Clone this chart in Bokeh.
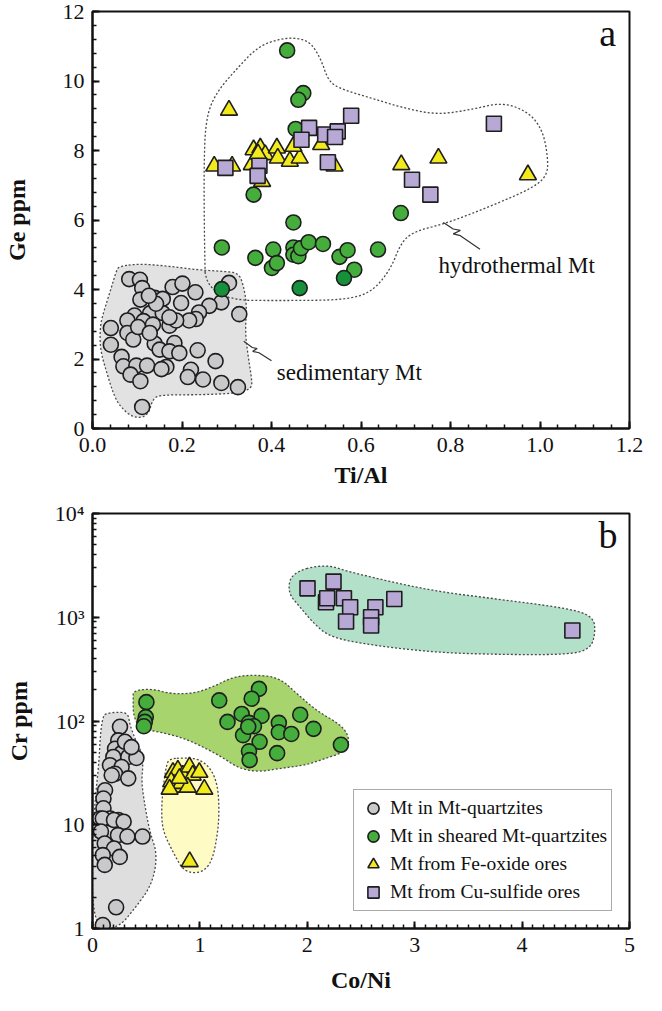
import numpy as np
from bokeh.plotting import figure
from bokeh.layouts import column
from bokeh.models import (Range1d, SingleIntervalTicker, FixedTicker, LogTicker, Label,
                          Legend, LegendItem)
from bokeh.embed import file_html
from bokeh.resources import INLINE

# ---------------- Panel a : Ge ppm vs Ti/Al ----------------
a_xticks = [0.0, 0.2, 0.4, 0.6, 0.8, 1.0, 1.2]
a_xtick_labels = ["0.0", "0.2", "0.4", "0.6", "0.8", "1.0", "1.2"]

a_sed_x = [0.082, 0.106, 0.111, 0.179, 0.201, 0.230, 0.305, 0.288, 0.261, 0.328,
           0.107, 0.139, 0.157, 0.198, 0.238, 0.231, 0.216, 0.129, 0.157, 0.094,
           0.078, 0.114, 0.135, 0.172, 0.187, 0.041, 0.078, 0.091, 0.041, 0.139,
           0.150, 0.183, 0.172, 0.194, 0.235, 0.275, 0.065, 0.069, 0.098, 0.122,
           0.165, 0.154, 0.085, 0.107, 0.220, 0.213, 0.247, 0.288, 0.325, 0.111,
           0.102, 0.128, 0.142, 0.172, 0.126]
a_sed_y = [4.30, 4.28, 4.04, 4.07, 4.17, 3.92, 4.19, 3.63, 3.53, 3.29,
           3.71, 3.76, 3.73, 3.61, 3.34, 3.15, 3.11, 3.32, 3.32, 3.25,
           3.11, 3.09, 2.99, 2.96, 3.11, 2.89, 2.75, 2.56, 2.41, 2.44,
           2.27, 2.46, 2.22, 2.17, 2.25, 1.94, 2.06, 1.79, 1.81, 1.81,
           1.77, 1.71, 1.55, 1.36, 1.69, 1.48, 1.41, 1.31, 1.19, 0.62,
           2.92, 2.75, 3.59, 3.20, 3.82]

a_grn_x = [0.435, 0.471, 0.460, 0.454, 0.360, 0.689, 0.449, 0.289, 0.364, 0.404, 0.401,
           0.412, 0.449, 0.449, 0.460, 0.466, 0.483, 0.515, 0.552, 0.570, 0.585, 0.638]
a_grn_y = [10.88, 9.65, 9.46, 8.62, 6.73, 6.20, 5.93, 5.21, 4.91, 5.15, 4.62,
           4.76, 5.21, 5.00, 4.96, 5.19, 5.36, 5.31, 4.94, 5.13, 4.57, 5.15]

a_dkg_x = [0.289, 0.463, 0.562]
a_dkg_y = [4.01, 4.04, 4.33]

a_tri_x = [0.305, 0.272, 0.312, 0.360, 0.375, 0.386, 0.412, 0.414, 0.441, 0.463,
           0.449, 0.511, 0.356, 0.541, 0.690, 0.773, 0.973, 0.379, 0.370]
a_tri_y = [9.16, 7.55, 7.55, 8.02, 8.07, 7.88, 8.07, 7.78, 7.69, 7.78,
           8.12, 8.17, 7.59, 7.55, 7.59, 7.78, 7.30, 7.11, 7.90]

a_sq_x = [0.578, 0.484, 0.520, 0.548, 0.542, 0.467, 0.897, 0.297, 0.373, 0.369, 0.526, 0.714, 0.755]
a_sq_y = [9.00, 8.65, 8.46, 8.55, 8.39, 8.31, 8.77, 7.50, 7.56, 7.27, 7.66, 7.16, 6.73]

# field outlines (panel a)
a_sed_env_x = [0.061, 0.106, 0.172, 0.231, 0.297, 0.327, 0.338, 0.345, 0.341, 0.349, 0.356, 0.356,
               0.327, 0.245, 0.157, 0.135, 0.124, 0.091, 0.061, 0.046, 0.032, 0.017, 0.017, 0.024,
               0.043, 0.054]
a_sed_env_y = [4.67, 4.74, 4.67, 4.57, 4.52, 4.47, 4.09, 3.51, 2.75, 1.98, 1.41, 1.16,
               1.02, 0.97, 0.97, 0.88, 0.35, 0.30, 0.64, 1.02, 1.60, 2.27, 2.94, 3.32,
               4.09, 4.57]
a_hyd_env_x = [0.253, 0.250, 0.249, 0.253, 0.275, 0.327, 0.371, 0.420, 0.460, 0.489, 0.511,
               0.526, 0.548, 0.622, 0.696, 0.770, 0.843, 0.917, 0.975, 1.005, 1.017, 1.017,
               0.976, 0.880, 0.792, 0.718, 0.689, 0.666, 0.622, 0.563, 0.474]
a_hyd_env_y = [3.69, 5.50, 7.55, 8.90, 9.65, 10.42, 11.00, 11.22, 11.24, 11.09, 10.61,
               10.04, 9.80, 9.51, 9.22, 9.03, 9.17, 9.39, 9.10, 8.60, 7.90, 7.26,
               6.87, 6.35, 5.91, 5.67, 5.34, 4.57, 3.90, 3.71, 3.68]
a_sed_lead_x = [0.338, 0.357, 0.368, 0.358, 0.372, 0.400]
a_sed_lead_y = [2.51, 2.33, 2.30, 2.22, 2.18, 1.95]
a_hyd_lead_x = [0.784, 0.806, 0.822, 0.806, 0.822, 0.866]
a_hyd_lead_y = [5.93, 5.74, 5.70, 5.60, 5.55, 5.16]

# ---------------- Panel b : Cr ppm vs Co/Ni ----------------
b_gry_x = [0.256, 0.240, 0.210, 0.271, 0.194, 0.333, 0.409, 0.163, 0.271, 0.210,
           0.333, 0.179, 0.117, 0.102, 0.102, 0.163, 0.240, 0.071, 0.302, 0.363,
           0.096, 0.200, 0.290, 0.237, 0.325, 0.466, 0.079, 0.114, 0.200, 0.096,
           0.254, 0.114, 0.220, 0.096]
b_gry_y = [88, 65, 54, 49, 45, 45, 44, 37.5, 36, 31,
           28, 30, 21.5, 17.9, 14.4, 11.5, 11.1, 11.5, 63, 56,
           11.5, 11.1, 10.7, 7.95, 7.7, 7.7, 8.6, 6.6, 5.9, 5.1,
           4.9, 4.1, 1.6, 1.08]

b_grn_x = [0.502, 0.496, 0.487, 0.478, 1.180, 1.550, 1.482, 1.389, 1.574, 1.257, 1.457, 1.503,
           1.735, 1.735, 1.851, 1.934, 2.058, 2.313, 1.402, 1.556, 1.457, 1.463, 1.719, 1.450]
b_grn_y = [152, 109, 98, 89, 158, 204, 164, 117, 112, 98, 96, 89,
           96, 78, 75, 115, 84, 59, 73, 63, 51, 42, 49, 88]

b_tri_x = [0.749, 0.795, 0.841, 0.903, 0.933, 0.995, 0.733, 0.764, 0.825, 0.887, 1.041, 0.810, 0.718, 0.905]
b_tri_y = [32, 33.6, 30, 36, 30, 32, 26, 23, 25, 23, 22, 28, 22, 4.4]

b_sq_x = [2.002, 2.244, 2.174, 2.185, 2.341, 2.399, 2.634, 2.810, 2.361, 2.594, 2.594, 4.468]
b_sq_y = [1900, 2204, 1393, 1523, 1523, 1248, 1248, 1500, 910, 1000, 832, 745]

# field outlines (panel b), y given as log10(Cr)
b_gry_env_x = [0.100, 0.132, 0.256, 0.333, 0.348, 0.409, 0.456, 0.471, 0.456, 0.487, 0.533,
               0.606, 0.553, 0.395, 0.237, 0.000, 0.000, 0.030, 0.060, 0.075]
b_gry_env_ly = [2.05, 2.075, 2.087, 2.07, 1.959, 1.798, 1.702, 1.574, 1.413, 1.189, 0.933,
                0.708, 0.42, 0.195, 0.0, 0.0, 0.9, 1.3, 1.6, 1.9]
b_grn_env_x = [0.379, 0.564, 0.718, 0.933, 1.118, 1.303, 1.488, 1.735, 1.920, 2.104, 2.320, 2.397,
               2.350, 2.166, 1.981, 1.735, 1.550, 1.365, 1.180, 0.872, 0.626, 0.441, 0.379, 0.379]
b_grn_env_ly = [2.295, 2.31, 2.263, 2.263, 2.327, 2.423, 2.445, 2.423, 2.247, 2.087, 1.959, 1.83,
                1.702, 1.638, 1.574, 1.541, 1.51, 1.541, 1.67, 1.83, 1.894, 1.926, 2.055, 2.215]
b_yel_env_x = [0.718, 0.872, 0.995, 1.103, 1.165, 1.180, 1.168, 1.115, 1.010, 0.852, 0.764,
               0.656, 0.641, 0.656, 0.687]
b_yel_env_ly = [1.638, 1.644, 1.632, 1.541, 1.382, 1.157, 0.933, 0.644, 0.532, 0.548, 0.708,
                0.933, 1.125, 1.349, 1.574]
b_teal_env_x = [1.855, 2.167, 2.401, 3.142, 3.766, 4.468, 4.664, 4.683, 4.640, 4.450, 3.800,
                3.200, 2.600, 2.206, 2.050, 1.934, 1.816]
b_teal_env_ly = [3.433, 3.513, 3.433, 3.257, 3.176, 3.08, 3.0, 2.856, 2.70, 2.64, 2.64,
                 2.66, 2.73, 2.808, 2.952, 3.096, 3.24]

b_ytick_labels = {1: "1", 10: "10", 100: "10\u00b2", 1000: "10\u00b3", 10000: "10\u2074"}
legend_labels = ["Mt in Mt-quartzites", "Mt in sheared Mt-quartzites",
                 "Mt from Fe-oxide ores", "Mt from Cu-sulfide ores"]

# ---------------- styles ----------------
FONT = "Liberation Serif"
C_GRAY = "#c9c9cb"
C_GREEN = "#45ad3c"
C_DKGREEN = "#16903a"
C_YELLOW = "#f3ea1e"
C_PURPLE = "#b7a8d6"
EDGE = "#1e1e1e"
ENV_LINE = "#4a4a4a"


def chaikin(xs, ys, it=3):
    pts = np.column_stack([np.asarray(xs, float), np.asarray(ys, float)])
    for _ in range(it):
        nxt = np.roll(pts, -1, axis=0)
        q = 0.75 * pts + 0.25 * nxt
        r = 0.25 * pts + 0.75 * nxt
        out = np.empty((2 * len(pts), 2))
        out[0::2] = q
        out[1::2] = r
        pts = out
    return pts[:, 0], pts[:, 1]


def style(p, xlabel, ylabel, y_title_standoff, x_title_standoff):
    p.outline_line_color = "#111111"
    p.outline_line_width = 2
    p.xgrid.visible = False
    p.ygrid.visible = False
    for ax in (p.xaxis[0], p.yaxis[0]):
        ax.axis_line_width = 2
        ax.axis_line_color = "#111111"
        ax.major_tick_in = 7
        ax.major_tick_out = 0
        ax.minor_tick_in = 4
        ax.minor_tick_out = 0
        ax.major_tick_line_width = 2
        ax.minor_tick_line_width = 1.5
        ax.major_tick_line_color = "#111111"
        ax.minor_tick_line_color = "#111111"
        ax.major_label_text_font = FONT
        ax.major_label_text_font_size = "22px"
        ax.major_label_text_color = "#111111"
        ax.axis_label_text_font = FONT
        ax.axis_label_text_font_style = "bold"
        ax.axis_label_text_font_size = "24px"
        ax.axis_label_text_color = "#111111"
    p.xaxis[0].axis_label = xlabel
    p.yaxis[0].axis_label = ylabel
    p.xaxis[0].major_label_standoff = 9
    p.yaxis[0].major_label_standoff = 8
    p.yaxis[0].axis_label_standoff = y_title_standoff
    p.xaxis[0].axis_label_standoff = x_title_standoff


# ---------------- panel a ----------------
pa = figure(width=646, height=500, x_range=Range1d(0, 1.2), y_range=Range1d(0, 12),
            output_backend="svg", toolbar_location=None,
            min_border_left=91, min_border_right=17, min_border_top=11, min_border_bottom=72)
style(pa, "Ti/Al", "Ge ppm", 30, 7)
pa.xaxis[0].ticker = FixedTicker(ticks=a_xticks, minor_ticks=[i * 0.04 for i in range(31)])
pa.xaxis[0].major_label_overrides = dict(zip(a_xticks, a_xtick_labels))
pa.yaxis[0].ticker = SingleIntervalTicker(interval=2, num_minor_ticks=5)

sx, sy = chaikin(a_sed_env_x, a_sed_env_y)
pa.patch(sx, sy, fill_color="#e2e2e2", line_color=ENV_LINE, line_dash="2 2", line_width=1.3)
hx, hy = chaikin(a_hyd_env_x, a_hyd_env_y)
pa.patch(hx, hy, fill_color=None, line_color=ENV_LINE, line_dash="2 2", line_width=1.3)
pa.line(a_sed_lead_x, a_sed_lead_y, line_color="#333333", line_width=1.2)
pa.line(a_hyd_lead_x, a_hyd_lead_y, line_color="#333333", line_width=1.2)

pa.scatter(a_sed_x, a_sed_y, marker="circle", size=15, fill_color=C_GRAY, line_color=EDGE, line_width=1.6)
pa.scatter(a_grn_x, a_grn_y, marker="circle", size=15, fill_color=C_GREEN, line_color=EDGE, line_width=1.6)
pa.scatter(a_dkg_x, a_dkg_y, marker="circle", size=15, fill_color=C_DKGREEN, line_color=EDGE, line_width=1.6)
pa.scatter(a_tri_x, a_tri_y, marker="triangle", size=17, fill_color=C_YELLOW, line_color=EDGE, line_width=1.6)
pa.scatter(a_sq_x, a_sq_y, marker="square", size=15, fill_color=C_PURPLE, line_color=EDGE, line_width=1.6)

pa.add_layout(Label(x=0.412, y=1.62, text="sedimentary Mt", text_font=FONT, text_font_size="23px",
                    text_baseline="middle", text_color="#111111"))
pa.add_layout(Label(x=0.773, y=4.70, text="hydrothermal Mt", text_font=FONT, text_font_size="23px",
                    text_baseline="middle", text_color="#111111"))
pa.add_layout(Label(x=1.151, y=11.38, text="a", text_font=FONT, text_font_size="38px",
                    text_align="center", text_baseline="middle", text_color="#111111"))

# ---------------- panel b ----------------
pb = figure(width=646, height=495, x_range=Range1d(0, 5), y_range=Range1d(1, 10000),
            y_axis_type="log", output_backend="svg", toolbar_location=None,
            min_border_left=91, min_border_right=17, min_border_top=13, min_border_bottom=66)
style(pb, "Co/Ni", "Cr ppm", 20, 12)
pb.xaxis[0].ticker = SingleIntervalTicker(interval=1, num_minor_ticks=10)
pb.yaxis[0].ticker = LogTicker(num_minor_ticks=10)
pb.yaxis[0].major_label_overrides = b_ytick_labels

for ex, ely, col in ((b_gry_env_x, b_gry_env_ly, "#dedede"),
                     (b_grn_env_x, b_grn_env_ly, "#a8d46e"),
                     (b_yel_env_x, b_yel_env_ly, "#fffbc4"),
                     (b_teal_env_x, b_teal_env_ly, "#b3e0c9")):
    cx, cly = chaikin(ex, ely)
    cly = np.clip(cly, 0.0, None)
    pb.patch(cx, 10 ** cly, fill_color=col, line_color=ENV_LINE, line_dash="2 2", line_width=1.3)

r1 = pb.scatter(b_gry_x, b_gry_y, marker="circle", size=15, fill_color=C_GRAY, line_color=EDGE, line_width=1.6)
r2 = pb.scatter(b_grn_x, b_grn_y, marker="circle", size=15, fill_color=C_GREEN, line_color=EDGE, line_width=1.6)
r3 = pb.scatter(b_tri_x, b_tri_y, marker="triangle", size=17, fill_color=C_YELLOW, line_color=EDGE, line_width=1.6)
r4 = pb.scatter(b_sq_x, b_sq_y, marker="square", size=15, fill_color=C_PURPLE, line_color=EDGE, line_width=1.6)

pb.add_layout(Label(x=4.80, y=6166, text="b", text_font=FONT, text_font_size="38px",
                    text_align="center", text_baseline="middle", text_color="#111111"))

legend = Legend(items=[LegendItem(label=lab, renderers=[r]) for lab, r in
                       zip(legend_labels, (r1, r2, r3, r4))],
                location=(261, 17), orientation="vertical",
                border_line_color="#555555", border_line_width=1,
                background_fill_color="white", background_fill_alpha=1.0,
                label_text_font=FONT, label_text_font_size="19.5px", label_text_color="#111111",
                glyph_width=30, glyph_height=28, spacing=0, padding=4, margin=0,
                label_standoff=2, label_height=20)
pb.add_layout(legend)

layout = column(pa, pb)
open("out.html", "w").write(file_html(layout, INLINE))
